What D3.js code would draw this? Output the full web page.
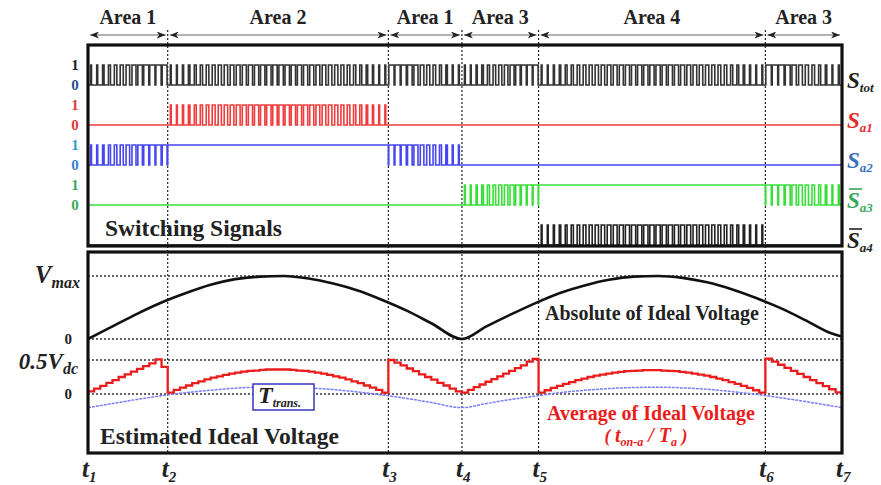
<!DOCTYPE html>
<html>
<head>
<meta charset="utf-8">
<script src="https://cdn.jsdelivr.net/npm/d3@7"></script>
<style>
  body { margin: 0; background: #fff; }
  text { font-family: "Liberation Serif", "Times New Roman", serif; font-weight: bold; }
</style>
</head>
<body>
<svg id="chart"></svg>
<script>
// time marks t1..t7, in switching periods
const tMarks = [0, 13, 49, 61, 73.5, 110.5, 123];
const tNames = ["1", "2", "3", "4", "5", "6", "7"];
const areaNames = ["Area 1", "Area 2", "Area 1", "Area 3", "Area 4", "Area 3"];

// duty (t_on/T) of each switching period, per area
const dutyA1a = [0.08, 0.16, 0.24, 0.33, 0.41, 0.50, 0.58, 0.66, 0.74, 0.82, 0.90, 1.02, 0.80];
const dutyA2 = [0.04, 0.12, 0.19, 0.25, 0.32, 0.37, 0.43, 0.48, 0.52, 0.56, 0.60, 0.63, 0.66, 0.68, 0.69, 0.71, 0.72, 0.72,
                0.72, 0.72, 0.71, 0.69, 0.68, 0.66, 0.63, 0.60, 0.56, 0.52, 0.48, 0.43, 0.37, 0.32, 0.25, 0.19, 0.12, 0.04];
const dutyA1b = [1.00, 0.92, 0.84, 0.75, 0.67, 0.58, 0.50, 0.42, 0.33, 0.25, 0.16, 0.08];
const dutyA3a = [0.04, 0.12, 0.20, 0.28, 0.36, 0.44, 0.52, 0.60, 0.68, 0.76, 0.84, 0.95, 1.03];
const dutyA4 = [0.04, 0.11, 0.18, 0.24, 0.30, 0.35, 0.41, 0.45, 0.50, 0.54, 0.57, 0.60, 0.63, 0.65, 0.67, 0.68, 0.69, 0.70, 0.70,
                0.70, 0.69, 0.68, 0.67, 0.65, 0.63, 0.60, 0.57, 0.54, 0.50, 0.45, 0.41, 0.35, 0.30, 0.24, 0.18, 0.11, 0.04];
const dutyA3b = [1.04, 0.95, 0.86, 0.77, 0.68, 0.59, 0.50, 0.41, 0.32, 0.23, 0.14, 0.05];
const areaDuty = [dutyA1a, dutyA2, dutyA1b, dutyA3a, dutyA4, dutyA3b];

// switching signals: "p" = pwm, 1 = on, 0 = off, per area
const signalSubs = ["tot", "a1", "a2", "a3", "a4"];
const stateTot = ["p", "p", "p", "p", "p", "p"];
const stateA1 = [0, "p", 0, 0, 0, 0];
const stateA2 = ["p", 1, "p", 0, 0, 0];
const stateA3 = [0, 0, 0, "p", 1, "p"];
const stateA4 = [0, 0, 0, 0, "p", 0];
const signalStates = [stateTot, stateA1, stateA2, stateA3, stateA4];

// absolute of ideal voltage (per unit of Vmax)
const absTime = [0, 4, 8, 12, 16, 20, 24, 28, 32, 36, 40, 44, 48, 52, 56, 61,
                 65, 69, 73, 77, 81, 85, 89, 93, 97, 101, 105, 109, 113, 117, 121, 123];
const absVal = [0, 0.20, 0.40, 0.58, 0.73, 0.86, 0.95, 0.99, 1.00, 0.96, 0.88, 0.77, 0.62, 0.45, 0.25, 0,
                0.20, 0.39, 0.57, 0.73, 0.85, 0.94, 0.99, 1.00, 0.97, 0.90, 0.79, 0.65, 0.49, 0.30, 0.10, 0.04];
// T_trans trace (per unit of 0.5Vdc)
const transVal = [-0.40, -0.28, -0.16, -0.05, 0.04, 0.11, 0.17, 0.20, 0.20, 0.18, 0.13, 0.06, -0.03, -0.13, -0.25, -0.40,
                  -0.28, -0.16, -0.06, 0.04, 0.11, 0.16, 0.19, 0.20, 0.18, 0.14, 0.07, -0.01, -0.11, -0.22, -0.34, -0.40];

const width = 881, height = 485;
const left = 88, right = 842;
const topBox = { y0: 45, y1: 246 };
const botBox = { y0: 252, y1: 453 };

const svg = d3.select("#chart").attr("width", width).attr("height", height);

const x = d3.scaleLinear().domain([0, 123]).range([left, right]);
const rowY = d3.scaleLinear().domain([0, 4]).range([85, 245]);   // low level of each signal row
const pulseH = 20;
const yAbs = d3.scaleLinear().domain([0, 1]).range([339, 276]);
const yAvg = d3.scaleLinear().domain([0, 1]).range([394, 360]);

const sigColors = ["#333", "#f03c3c", "#4646f0", "#3ade3a", "#222"];
const lblColors = ["#222", "#e52b2b", "#3b6fc0", "#3aa85a", "#222"];
const oneColors = ["#222", "#e03a3a", "#3399cc", "#3aa860"];
const zeroColors = ["#2b4f8f", "#e03a3a", "#3b7fd0", "#3aa860"];

// defs: arrow marker
const defs = svg.append("defs");
defs.append("marker")
    .attr("id", "arr")
    .attr("viewBox", "0 0 9 7")
    .attr("refX", 9).attr("refY", 3.5)
    .attr("markerWidth", 9).attr("markerHeight", 7)
    .attr("markerUnits", "userSpaceOnUse")
    .attr("orient", "auto-start-reverse")
    .append("path")
    .attr("d", "M0,0 L9,3.5 L0,7 L2.5,3.5 Z")
    .attr("fill", "#222");

//area labels + arrows
areaNames.forEach((name, k) => {
    const a = x(tMarks[k]), b = x(tMarks[k + 1]);
    svg.append("line")
        .attr("x1", a + 2).attr("x2", b - 2)
        .attr("y1", 35).attr("y2", 35)
        .attr("stroke", "#666").attr("stroke-width", 1)
        .attr("marker-start", "url(#arr)")
        .attr("marker-end", "url(#arr)");
    svg.append("text")
        .attr("x", (a + b) / 2).attr("y", 24)
        .attr("text-anchor", "middle")
        .attr("font-size", 20)
        .attr("fill", "#222")
        .text(name);
});

//horizontal dotted grid in the lower panel
const gridY = [yAbs(1), yAbs(0), yAvg(1), yAvg(0)];
svg.selectAll(".hgrid")
    .data(gridY)
    .enter()
    .append("line")
    .attr("class", "hgrid")
    .attr("x1", left).attr("x2", right)
    .attr("y1", d => d).attr("y2", d => d)
    .attr("stroke", "#333").attr("stroke-width", 1.3)
    .attr("stroke-dasharray", "2,2");

//vertical dotted lines
svg.selectAll(".vgrid")
    .data(tMarks.slice(1, 6))
    .enter()
    .append("line")
    .attr("class", "vgrid")
    .attr("x1", d => x(d)).attr("x2", d => x(d))
    .attr("y1", 30).attr("y2", botBox.y1)
    .attr("stroke", "#222").attr("stroke-width", 1.2)
    .attr("stroke-dasharray", "2,2");

//switching signals
function signalPoints(states) {
    const pts = [];
    states.forEach((st, k) => {
        const a = tMarks[k], b = tMarks[k + 1];
        if (st === "p") {
            const duty = areaDuty[k];
            const p = (b - a) / duty.length;
            duty.forEach((d, i) => {
                const dd = Math.max(0.14, Math.min(0.86, d));
                const s = a + i * p;
                pts.push([s, 0], [s + (1 - dd) / 2 * p, 1], [s + (1 + dd) / 2 * p, 0]);
            });
        } else {
            pts.push([a, st]);
        }
    });
    const last = states[states.length - 1];
    pts.push([123, last === "p" ? 0 : last]);
    return pts;
}

signalStates.forEach((states, r) => {
    const lo = rowY(r);
    const line = d3.line()
        .x(d => x(d[0]))
        .y(d => lo - pulseH * d[1])
        .curve(d3.curveStepAfter);
    svg.append("path")
        .attr("d", line(signalPoints(states)))
        .attr("fill", "none")
        .attr("stroke", sigColors[r])
        .attr("stroke-width", 1.6);
});

//left 1 / 0 labels
[0, 1, 2, 3].forEach(r => {
    svg.append("text")
        .attr("x", 75).attr("y", rowY(r) - pulseH + 5)
        .attr("text-anchor", "middle")
        .attr("font-size", 15)
        .attr("fill", oneColors[r])
        .text("1");
    svg.append("text")
        .attr("x", 75).attr("y", rowY(r) + 5)
        .attr("text-anchor", "middle")
        .attr("font-size", 15)
        .attr("fill", zeroColors[r])
        .text("0");
});

//right signal labels
signalSubs.forEach((sub, r) => {
    const base = rowY(r) - pulseH / 2 + 13;
    const t = svg.append("text")
        .attr("x", 847).attr("y", base)
        .attr("fill", lblColors[r])
        .attr("font-style", "italic");
    t.append("tspan").attr("font-size", 23).text("S");
    t.append("tspan").attr("font-size", 13).attr("dy", 4).text(sub);
    if (r >= 3) {
        svg.append("line")
            .attr("x1", 849).attr("x2", 862)
            .attr("y1", base - 19).attr("y2", base - 19)
            .attr("stroke", lblColors[r]).attr("stroke-width", 1.6);
    }
});

svg.append("text")
    .attr("x", 105).attr("y", 236)
    .attr("font-size", 23.5)
    .attr("fill", "#222")
    .text("Switching Signals");

//lower panel curves
const transLine = d3.line()
    .x((d, i) => x(absTime[i]))
    .y(d => yAvg(d))
    .curve(d3.curveMonotoneX);
svg.append("path")
    .attr("d", transLine(transVal))
    .attr("fill", "none")
    .attr("stroke", "#7b7bff")
    .attr("stroke-width", 1.5)
    .attr("stroke-dasharray", "3,1");

const avgPts = [];
areaDuty.forEach((duty, k) => {
    const a = tMarks[k], b = tMarks[k + 1];
    const p = (b - a) / duty.length;
    duty.forEach((d, i) => avgPts.push([a + i * p, d]));
});
avgPts.push([123, dutyA3b[dutyA3b.length - 1]]);

svg.append("path")
    .attr("d", d3.line().x(d => x(d[0])).y(d => yAvg(d[1])).curve(d3.curveStepAfter)(avgPts))
    .attr("fill", "none")
    .attr("stroke", "#ea1c1c")
    .attr("stroke-width", 2.3);

const absLine = d3.line()
    .x((d, i) => x(absTime[i]))
    .y(d => yAbs(d))
    .curve(d3.curveMonotoneX);
svg.append("path")
    .attr("d", absLine(absVal))
    .attr("fill", "none")
    .attr("stroke", "#111")
    .attr("stroke-width", 2.6);

//T_trans box
svg.append("rect")
    .attr("x", 253).attr("y", 384)
    .attr("width", 61).attr("height", 26)
    .attr("fill", "#fff")
    .attr("stroke", "#3535c0").attr("stroke-width", 1.5);
const tt = svg.append("text")
    .attr("x", 258).attr("y", 403)
    .attr("font-style", "italic")
    .attr("fill", "#222");
tt.append("tspan").attr("font-size", 24).text("T");
tt.append("tspan").attr("font-size", 12).attr("dy", 4).text("trans.");

//lower panel texts
svg.append("text")
    .attr("x", 100).attr("y", 444)
    .attr("font-size", 23.5)
    .attr("fill", "#222")
    .text("Estimated Ideal Voltage");

svg.append("text")
    .attr("x", 652).attr("y", 320)
    .attr("text-anchor", "middle")
    .attr("font-size", 20)
    .attr("fill", "#222")
    .text("Absolute of Ideal Voltage");

svg.append("text")
    .attr("x", 651).attr("y", 420)
    .attr("text-anchor", "middle")
    .attr("font-size", 20)
    .attr("fill", "#ea1c1c")
    .text("Average of Ideal Voltage");

const ton = svg.append("text")
    .attr("x", 646).attr("y", 442)
    .attr("text-anchor", "middle")
    .attr("font-style", "italic")
    .attr("fill", "#ea1c1c");
ton.append("tspan").attr("font-size", 18).text("( ");
ton.append("tspan").attr("font-size", 20).text("t");
ton.append("tspan").attr("font-size", 12).attr("dy", 4).text("on-a");
ton.append("tspan").attr("font-size", 20).attr("dy", -4).text(" / T");
ton.append("tspan").attr("font-size", 12).attr("dy", 4).text("a");
ton.append("tspan").attr("font-size", 18).attr("dy", -4).text(" )");

//y level labels
const vmax = svg.append("text")
    .attr("x", 80).attr("y", 283)
    .attr("text-anchor", "end")
    .attr("font-style", "italic")
    .attr("fill", "#222");
vmax.append("tspan").attr("font-size", 25).text("V");
vmax.append("tspan").attr("font-size", 16).attr("dy", 5).text("max");

const vdc = svg.append("text")
    .attr("x", 78).attr("y", 369)
    .attr("text-anchor", "end")
    .attr("font-style", "italic")
    .attr("fill", "#222");
vdc.append("tspan").attr("font-size", 23).text("0.5V");
vdc.append("tspan").attr("font-size", 16).attr("dy", 5).text("dc");

[yAbs(0), yAvg(0)].forEach(y => {
    svg.append("text")
        .attr("x", 72).attr("y", y + 5)
        .attr("text-anchor", "end")
        .attr("font-size", 15)
        .attr("fill", "#222")
        .text("0");
});

//t labels
tMarks.forEach((t, i) => {
    const lab = svg.append("text")
        .attr("x", x(t) - 6).attr("y", 477)
        .attr("font-style", "italic")
        .attr("fill", "#222");
    lab.append("tspan").attr("font-size", 25).text("t");
    lab.append("tspan").attr("font-size", 15).attr("dy", 5).text(tNames[i]);
});

//panel borders
[topBox, botBox].forEach(b => {
    svg.append("rect")
        .attr("x", left).attr("y", b.y0)
        .attr("width", right - left).attr("height", b.y1 - b.y0)
        .attr("fill", "none")
        .attr("stroke", "#111")
        .attr("stroke-width", 3.2);
});
</script>
</body>
</html>
